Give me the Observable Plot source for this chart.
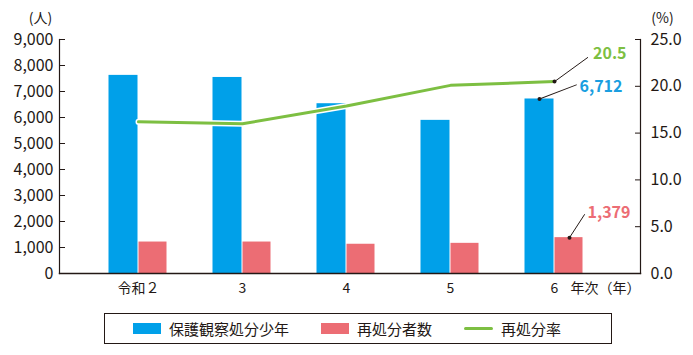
<!DOCTYPE html>
<html>
<head>
<meta charset="utf-8">
<script src="https://cdn.jsdelivr.net/npm/d3@7"></script>
<script src="https://cdn.jsdelivr.net/npm/@observablehq/plot@0.6"></script>
<style>
  html, body { margin: 0; padding: 0; background: #fff; }
  #wrap { position: relative; width: 693px; height: 355px; font-family: "Noto Sans CJK JP", sans-serif; color: #231815; }
  #legend { position: absolute; left: 104px; top: 313px; width: 478px; height: 29px; border: 1px solid #231815;
            display: flex; align-items: center; font-size: 15px; padding-left: 28px; box-sizing: content-box; }
  #legend .item { display: flex; align-items: center; margin-right: 32px; }
  #legend .sw { width: 28px; height: 11px; margin-right: 8px; }
  #legend .ln { width: 29px; height: 3px; margin-right: 8px; border-radius: 2px; }
</style>
</head>
<body>
<div id="wrap"></div>
<script>
const years = ["令和２", "3", "4", "5", "6"];
const juveniles = [7620, 7540, 6530, 5890, 6712];
const reoffenders = [1210, 1210, 1125, 1160, 1379];
const reoffendRate = [16.2, 16.0, 17.9, 20.1, 20.5];
const leftTicks = [0, 1000, 2000, 3000, 4000, 5000, 6000, 7000, 8000, 9000];
const rightTicks = [0, 5, 10, 15, 20, 25];
const seriesNames = ["保護観察処分少年", "再処分者数", "再処分率"];
const unitLeft = "(人)";
const unitRight = "(%)";
const xUnit = "年次（年）";

const blue = "#00a0e9";
const red = "#ec6d74";
const green = "#7dbf42";
const ink = "#231815";

const k = 9000 / 25; // right axis (percent) mapped onto left axis domain

const rows = years.map((year, i) => ({
  year, juveniles: juveniles[i], reoffenders: reoffenders[i], rate: reoffendRate[i]
}));
const last = rows[rows.length - 1];
const leader = {draw(ctx, l) { ctx.moveTo(0, 0); ctx.lineTo(0, -l); }};
const fmt = d3.format(",");

const chart = Plot.plot({
  width: 693,
  height: 300,
  marginLeft: 59,
  marginRight: 53,
  marginTop: 39,
  marginBottom: 27,
  x: {type: "band", domain: years, padding: 0, insetLeft: 26.5, insetRight: 34.5, label: null},
  y: {domain: [0, 9000], label: null},
  style: {fontFamily: "'Noto Sans CJK JP', sans-serif", fontSize: "15px", color: ink, background: "white"},
  marks: [
    Plot.barY(rows, {x: "year", y: "juveniles", fill: blue, insetLeft: 22.5, insetRight: 52.5}),
    Plot.barY(rows, {x: "year", y: "reoffenders", fill: red, insetLeft: 52.5, insetRight: 23.5}),
    Plot.line(rows, {x: "year", y: d => d.rate * k, stroke: "white", strokeWidth: 6}),
    Plot.line(rows, {x: "year", y: d => d.rate * k, stroke: green, strokeWidth: 3}),
    Plot.frame({anchor: "left", stroke: ink, strokeWidth: 1.2}),
    Plot.frame({anchor: "right", stroke: ink, strokeWidth: 1.2}),
    Plot.frame({anchor: "bottom", stroke: ink, strokeWidth: 1.4}),
    Plot.axisY({anchor: "left", ticks: leftTicks, tickFormat: fmt, tickSize: -6, tickPadding: 12, fontSize: 16, label: null, stroke: ink}),
    Plot.axisY({anchor: "right", ticks: rightTicks.map(v => v * k), tickFormat: d => (d / k).toFixed(1), tickSize: -6, tickPadding: 16, fontSize: 16, label: null, stroke: ink}),
    Plot.axisX({tickSize: 0, tickPadding: 10, fontSize: 14, label: null}),
    Plot.text([xUnit], {frameAnchor: "bottom-right", text: d => d, textAnchor: "end", lineAnchor: "top", dy: 10, fontSize: 14}),
    Plot.text([unitLeft], {frameAnchor: "top-left", text: d => d, textAnchor: "middle", dx: -19, dy: -26, fontSize: 14}),
    Plot.text([unitRight], {frameAnchor: "top-right", text: d => d, textAnchor: "middle", dx: 22, dy: -26, fontSize: 14}),
    // annotations
    Plot.vector([last], {x: "year", y: d => d.rate * k, length: 41, rotate: 54, anchor: "start", shape: leader, stroke: ink, strokeWidth: 0.9}),
    Plot.dot([last], {x: "year", y: d => d.rate * k, r: 2, fill: ink}),
    Plot.text([last], {x: "year", y: d => d.rate * k, text: d => d.rate.toFixed(1), dx: 38.5, dy: -28, textAnchor: "start", fill: green, fontSize: 16, fontWeight: "bold"}),
    Plot.vector([last], {x: "year", y: "juveniles", dx: -15, length: 39.5, rotate: 69, anchor: "start", shape: leader, stroke: ink, strokeWidth: 0.9}),
    Plot.dot([last], {x: "year", y: "juveniles", dx: -15, r: 2, fill: ink}),
    Plot.text([last], {x: "year", y: "juveniles", text: d => fmt(d.juveniles), dx: 25, dy: -12, textAnchor: "start", fill: "#1a9ee0", fontSize: 16, fontWeight: "bold"}),
    Plot.vector([last], {x: "year", y: "reoffenders", dx: 15, length: 27.5, rotate: 33, anchor: "start", shape: leader, stroke: ink, strokeWidth: 0.9}),
    Plot.dot([last], {x: "year", y: "reoffenders", dx: 15, r: 2, fill: ink}),
    Plot.text([last], {x: "year", y: "reoffenders", text: d => fmt(d.reoffenders), dx: 33, dy: -25, textAnchor: "start", fill: red, fontSize: 16, fontWeight: "bold"})
  ]
});

const wrap = document.getElementById("wrap");
wrap.appendChild(chart);

const legend = document.createElement("div");
legend.id = "legend";
const legendKinds = [["sw", blue], ["sw", red], ["ln", green]];
seriesNames.forEach((name, i) => {
  const item = document.createElement("div");
  item.className = "item";
  const sw = document.createElement("span");
  sw.className = legendKinds[i][0];
  sw.style.background = legendKinds[i][1];
  const t = document.createElement("span");
  t.textContent = name;
  item.appendChild(sw);
  item.appendChild(t);
  legend.appendChild(item);
});
wrap.appendChild(legend);
</script>
</body>
</html>
